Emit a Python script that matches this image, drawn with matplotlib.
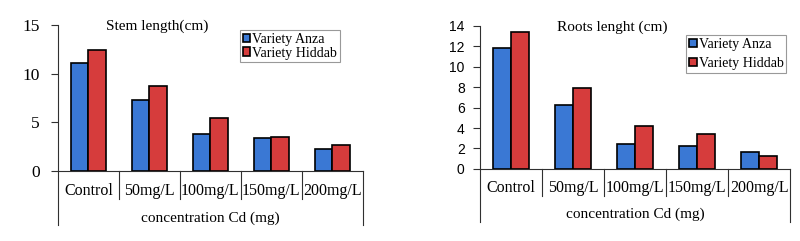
import numpy as np
import matplotlib.pyplot as plt
import matplotlib.transforms as mtransforms

categories = ["Control", "50mg/L", "100mg/L", "150mg/L", "200mg/L"]
stem_anza = [11.1, 7.35, 3.85, 3.4, 2.3]
stem_hiddab = [12.45, 8.75, 5.45, 3.5, 2.7]
root_anza = [11.8, 6.3, 2.4, 2.25, 1.65]
root_hiddab = [13.35, 7.9, 4.2, 3.4, 1.25]

blue = "#3a78d4"
red = "#d63c3c"
serif = "Liberation Serif"


def draw_panel(ax, anza, hiddab, title, ymax, ystep, tick_font, title_x,
               leg_anchor, leg_spacing, tick_pad):
    x = np.arange(len(categories))
    w = 0.29
    ax.bar(x - w / 2, anza, w, color=blue, edgecolor="black", linewidth=1.2,
           label="Variety Anza", zorder=3)
    ax.bar(x + w / 2, hiddab, w, color=red, edgecolor="black", linewidth=1.2,
           label="Variety Hiddab", zorder=3)
    ax.set_xlim(-0.5, len(categories) - 0.5)
    ax.set_ylim(0, ymax)
    ax.set_yticks(np.arange(0, ymax + 0.1, ystep))
    for lab in ax.get_yticklabels():
        lab.set_fontfamily(tick_font)
        lab.set_fontsize(12.5 if tick_font == serif else 10)
    ax.tick_params(axis="y", direction="out", length=5, width=0.8,
                   pad=tick_pad, color="#303030")
    ax.spines["top"].set_visible(False)
    ax.spines["right"].set_visible(False)
    ax.spines["left"].set_color("#303030")
    ax.spines["bottom"].set_color("#303030")
    ax.set_xticks([])

    trans = mtransforms.blended_transform_factory(ax.transData, ax.transAxes)
    # category separators
    for b in np.arange(0.5, len(categories) - 1, 1.0):
        ax.plot([b, b], [0, -0.19], transform=trans, color="#303030",
                lw=0.8, clip_on=False)
    for b in [-0.5, len(categories) - 0.5]:
        ax.plot([b, b], [0, -0.37], transform=trans, color="#303030",
                lw=0.8, clip_on=False)
    for i, c in enumerate(categories):
        ax.text(i, -0.135, c, transform=trans, ha="center", va="center",
                fontfamily=serif, fontsize=11.5)
    ax.text((len(categories) - 1) / 2, -0.32, "concentration Cd (mg)",
            transform=trans, ha="center", va="center",
            fontfamily=serif, fontsize=11)
    ax.text(title_x, 0.99, title, transform=ax.transAxes, ha="center",
            va="center", fontfamily=serif, fontsize=11)
    leg = ax.legend(loc="upper right", bbox_to_anchor=leg_anchor,
                    prop={"family": serif, "size": 10}, frameon=True,
                    fancybox=False, edgecolor="#808080", handlelength=0.55,
                    handleheight=0.55, handletextpad=0.15, borderpad=0.2,
                    labelspacing=leg_spacing, borderaxespad=0.0)
    leg.get_frame().set_linewidth(0.8)


fig = plt.figure(figsize=(8, 2.41), dpi=100)
ax1 = fig.add_axes([0.0725, 0.29, 0.381, 0.606])
ax2 = fig.add_axes([0.6, 0.299, 0.388, 0.594])

draw_panel(ax1, stem_anza, stem_hiddab, "Stem length(cm)", 15, 5, serif,
           0.325, (0.925, 0.966), 0.05, 8)
draw_panel(ax2, root_anza, root_hiddab, "Roots lenght (cm)", 14, 2,
           "Liberation Sans", 0.426, (0.987, 0.935), 0.45, 6)

fig.savefig("out.png", dpi=100)
